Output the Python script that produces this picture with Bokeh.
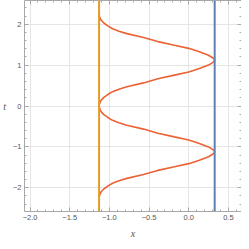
from bokeh.plotting import figure
from bokeh.models import Range1d, LinearAxis, SingleIntervalTicker, CustomJSTickFormatter, Span
from bokeh.embed import file_html
from bokeh.resources import INLINE

# curve: t (vertical) and x (horizontal)
t_vals = [-2.24, -2.19, -2.14, -2.09, -2.03, -1.96, -1.89, -1.83, -1.77, -1.675, -1.575, -1.485, -1.41,
          -1.33, -1.24, -1.18, -1.15, -1.12, -1.09, -1.06, -1.00, -0.91, -0.83, -0.755, -0.665,
          -0.565, -0.47, -0.41, -0.35, -0.28, -0.21, -0.15, -0.10, -0.05,
          0.00, 0.05, 0.10, 0.15, 0.21, 0.28, 0.35, 0.41, 0.47, 0.565, 0.665, 0.755, 0.83, 0.91,
          1.00, 1.06, 1.09, 1.12, 1.15, 1.18, 1.24, 1.33, 1.41, 1.485, 1.575, 1.675, 1.77,
          1.83, 1.89, 1.96, 2.03, 2.09, 2.14, 2.19, 2.24]
x_vals = [-1.13, -1.125, -1.115, -1.10, -1.07, -1.02, -0.96, -0.88, -0.78, -0.57, -0.39, -0.18, 0.0,
          0.125, 0.25, 0.30, 0.32, 0.327, 0.32, 0.30, 0.25, 0.125, 0.0, -0.18, -0.39,
          -0.57, -0.78, -0.88, -0.96, -1.02, -1.07, -1.10, -1.115, -1.125,
          -1.13, -1.125, -1.115, -1.10, -1.07, -1.02, -0.96, -0.88, -0.78, -0.57, -0.39, -0.18, 0.0, 0.125,
          0.25, 0.30, 0.32, 0.327, 0.32, 0.30, 0.25, 0.125, 0.0, -0.18, -0.39, -0.57, -0.78,
          -0.88, -0.96, -1.02, -1.07, -1.10, -1.115, -1.125, -1.13]

x_left_line = -1.13
x_right_line = 0.327

x_axis_title = "x"
y_axis_title = "t"

GRAY = "#a8a8a8"
TXT = "#555555"

p = figure(width=241, height=241,
           x_range=Range1d(-2.07, 0.665), y_range=Range1d(-2.58, 2.58),
           output_backend="svg", toolbar_location=None,
           x_axis_location=None, y_axis_location=None, min_border=0)
p.outline_line_color = None
p.background_fill_color = "white"
p.border_fill_color = "white"

fmt_x = CustomJSTickFormatter(code="return tick.toFixed(1).replace('-', '\\u2212');")
fmt_y = CustomJSTickFormatter(code="return tick.toFixed(0).replace('-', '\\u2212');")


def make_axis(kind, labels):
    ax = LinearAxis()
    if kind == "x":
        ax.ticker = SingleIntervalTicker(interval=0.5, num_minor_ticks=5)
        ax.formatter = fmt_x
    else:
        ax.ticker = SingleIntervalTicker(interval=1, num_minor_ticks=5)
        ax.formatter = fmt_y
    ax.axis_line_color = GRAY
    ax.major_tick_line_color = GRAY
    ax.minor_tick_line_color = GRAY
    ax.major_tick_in = 4
    ax.major_tick_out = 0
    ax.minor_tick_in = 2
    ax.minor_tick_out = 0
    if labels:
        ax.major_label_text_font = "Liberation Sans"
        ax.major_label_text_font_size = "7.5px"
        ax.major_label_text_color = TXT
        ax.major_label_standoff = 3
    else:
        ax.major_label_text_font_size = "0px"
        ax.major_label_text_color = None
        ax.major_label_standoff = 0
    return ax


left = make_axis("y", True)
left.axis_label = y_axis_title
left.axis_label_orientation = "horizontal"
left.axis_label_text_font = "Liberation Serif"
left.axis_label_text_font_style = "italic"
left.axis_label_text_font_size = "10px"
left.axis_label_text_color = TXT
left.axis_label_standoff = 4

bottom = make_axis("x", True)
bottom.axis_label = x_axis_title
bottom.axis_label_text_font = "Liberation Serif"
bottom.axis_label_text_font_style = "italic"
bottom.axis_label_text_font_size = "10px"
bottom.axis_label_text_color = TXT
bottom.axis_label_standoff = 5

p.add_layout(left, "left")
p.add_layout(bottom, "below")
p.add_layout(make_axis("x", False), "above")
p.add_layout(make_axis("y", False), "right")

p.line(x_vals, t_vals, line_color="#EB6235", line_width=1.6)

p.add_layout(Span(location=x_left_line, dimension="height", line_color="#E19C24", line_width=2))
p.add_layout(Span(location=x_right_line, dimension="height", line_color="#5E81B5", line_width=2))

open("out.html", "w").write(file_html(p, INLINE))
